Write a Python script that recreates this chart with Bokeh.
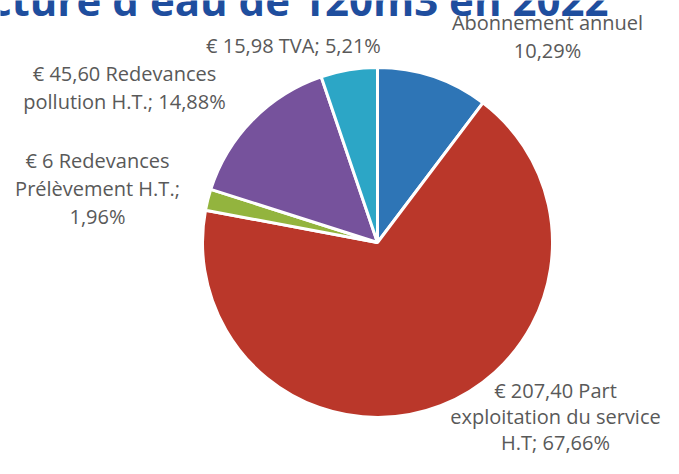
import math
from bokeh.plotting import figure
from bokeh.models import ColumnDataSource, Range1d
from bokeh.core.properties import value
from bokeh.embed import file_html
from bokeh.resources import INLINE

# ---- data ----
categories = ["Abonnement annuel", "Part exploitation du service H.T",
              "Redevances Prélèvement H.T.", "Redevances pollution H.T.", "TVA"]
amounts = [31.54, 207.40, 6.00, 45.60, 15.98]
percents = ["10,29%", "67,66%", "1,96%", "14,88%", "5,21%"]
colors = ["#2E75B6", "#BA372A", "#93B43E", "#76529C", "#2CA6C6"]
label_lines = [
    ["Abonnement annuel", "10,29%"],
    ["€ 207,40 Part", "exploitation du service", "H.T; 67,66%"],
    ["€ 6 Redevances", "Prélèvement H.T.;", "1,96%"],
    ["€ 45,60 Redevances", "pollution H.T.; 14,88%"],
    ["€ 15,98 TVA; 5,21%"],
]
title_text = "Facture d'eau de 120m3 en 2022"

W, H = 663, 458


def sy(y):
    return H - y


p = figure(width=W, height=H, output_backend="svg", toolbar_location=None,
           x_range=Range1d(0, W), y_range=Range1d(0, H), min_border=0,
           match_aspect=False)
p.axis.visible = False
p.grid.visible = False
p.outline_line_color = None
p.background_fill_color = "white"
p.border_fill_color = "white"

# wedges
total = sum(amounts)
starts, ends = [], []
acc = 0.0
for a in amounts:
    s = math.pi / 2 - 2 * math.pi * acc / total
    acc += a
    e = math.pi / 2 - 2 * math.pi * acc / total
    starts.append(s)
    ends.append(e)

src = ColumnDataSource(dict(start=starts, end=ends, color=colors, cat=categories))
p.wedge(x=377, y=sy(242), radius=175, start_angle="start", end_angle="end",
        direction="clock", fill_color="color", line_color="white", line_width=3,
        source=src)

# labels: (center x, first line y, line spacing)
label_pos = [(547, 22, 28), (555, 390, 26), (97, 160, 28), (124, 73, 28), (293, 45, 28)]
xs, ys, ts = [], [], []
for (cx, cy, lh), lines in zip(label_pos, label_lines):
    for i, t in enumerate(lines):
        xs.append(cx)
        ys.append(sy(cy + i * lh))
        ts.append(t)
p.text(x=xs, y=ys, text=ts, text_align="center", text_baseline="middle",
       text_font=value("Open Sans"), text_font_size="20px", text_color="#595959")

# title (clipped at top as in the original)
p.text(x=[608], y=[sy(-1)], text=[title_text], text_align="right",
       text_baseline="alphabetic", text_font=value("Open Sans"),
       text_font_style="bold", text_font_size="42px", text_color="#1F4E9E")

open("out.html", "w").write(file_html(p, INLINE))
